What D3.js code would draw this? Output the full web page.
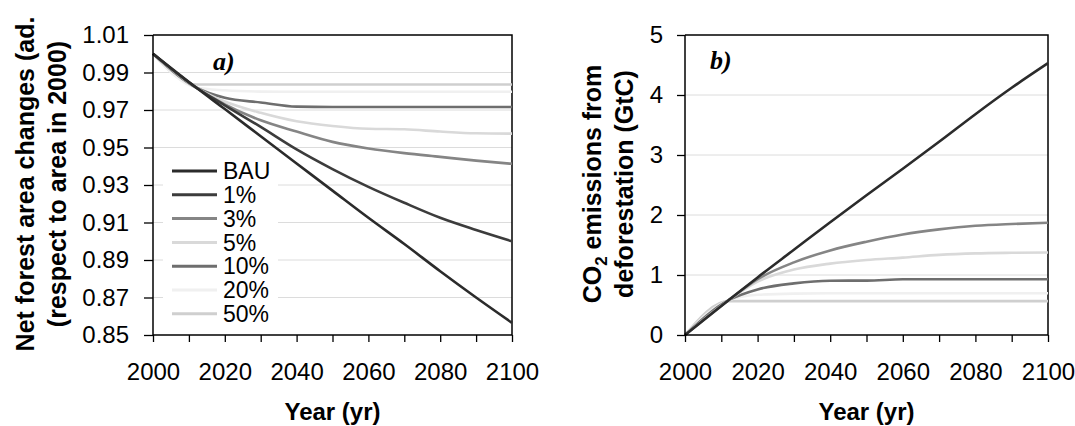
<!DOCTYPE html>
<html><head><meta charset="utf-8">
<script src="https://cdn.jsdelivr.net/npm/d3@7"></script>
<style>
body{margin:0;background:#fff;}
text{font-family:"Liberation Sans",Arial,sans-serif;fill:#000;}
</style></head>
<body><svg id="c" width="1075" height="426"></svg>
<script>
// ---------- data ----------
const years = [2000, 2012, 2020, 2030, 2040, 2050, 2060, 2070, 2080, 2090, 2100];
const seriesNames = ["BAU", "1%", "3%", "5%", "10%", "20%", "50%"];
// panel a: net forest area (relative to 2000)
const areaBAU = [1.000, 0.982, 0.9705, 0.956, 0.9415, 0.927, 0.9125, 0.8985, 0.884, 0.870, 0.8565];
const area1   = [1.000, 0.982, 0.9725, 0.961, 0.949, 0.9385, 0.929, 0.9205, 0.9125, 0.906, 0.900];
const area3   = [1.000, 0.982, 0.973, 0.9645, 0.9585, 0.953, 0.9495, 0.947, 0.945, 0.943, 0.9413];
const area5   = [1.000, 0.982, 0.9745, 0.9685, 0.964, 0.9615, 0.960, 0.9597, 0.9585, 0.9576, 0.9574];
const area10  = [1.000, 0.982, 0.9765, 0.974, 0.9718, 0.9716, 0.9716, 0.9716, 0.9716, 0.9716, 0.9716];
const area20  = [1.000, 0.982, 0.9805, 0.9798, 0.9797, 0.9797, 0.9797, 0.9797, 0.9797, 0.9797, 0.9797];
const area50  = [1.000, 0.9836, 0.9836, 0.9836, 0.9836, 0.9836, 0.9836, 0.9836, 0.9836, 0.9836, 0.9836];
// panel b: CO2 emissions from deforestation (GtC)
const co2BAU = [0, 0.58, 0.96, 1.42, 1.88, 2.33, 2.77, 3.22, 3.68, 4.12, 4.53];
const co2_3  = [0, 0.58, 0.93, 1.21, 1.41, 1.555, 1.675, 1.76, 1.82, 1.85, 1.87];
const co2_5  = [0, 0.58, 0.89, 1.09, 1.19, 1.25, 1.29, 1.335, 1.36, 1.37, 1.375];
const co2_10 = [0, 0.58, 0.76, 0.86, 0.905, 0.907, 0.928, 0.93, 0.93, 0.93, 0.93];
const co2_20 = [0, 0.58, 0.67, 0.69, 0.695, 0.695, 0.695, 0.695, 0.695, 0.695, 0.695];
const co2_50 = [0, 0.565, 0.565, 0.565, 0.565, 0.565, 0.565, 0.565, 0.565, 0.565, 0.565];
const areaTicks = [0.85, 0.87, 0.89, 0.91, 0.93, 0.95, 0.97, 0.99, 1.01];
const co2Ticks = [0, 1, 2, 3, 4, 5];
const yearTicks = [2000, 2010, 2020, 2030, 2040, 2050, 2060, 2070, 2080, 2090, 2100];
const yearLabels = [2000, 2020, 2040, 2060, 2080, 2100];

const colors = {"BAU":"#2b2b2b","1%":"#3c3c3c","3%":"#858585","5%":"#d9d9d9","10%":"#6e6e6e","20%":"#f0f0f0","50%":"#cfcfcf"};

const svg = d3.select("#c");
const FS = 24;

function panel(cfg){
  const g = svg.append("g");
  const x = d3.scaleLinear().domain([2000,2100]).range([cfg.x0, cfg.x1]);
  const y = d3.scaleLinear().domain(cfg.domain).range([335, 35]);
  g.selectAll("line.grid").data(cfg.ticks.slice(1,-1)).join("line")
    .attr("x1", cfg.x0).attr("x2", cfg.x1).attr("y1", d=>y(d)).attr("y2", d=>y(d))
    .attr("stroke","#dcdcdc").attr("stroke-width",1);
  g.append("path").attr("d",`M${cfg.x0},${y(cfg.domain[1])}H${cfg.x1}V${y(cfg.domain[0])}`)
    .attr("fill","none").attr("stroke","#000").attr("stroke-width",1.5);
  const line = d3.line().x((d,i)=>x(years[i])).y(d=>y(d)).curve(d3.curveMonotoneX);
  const lg = g.append("g");
  cfg.drawOrder.forEach(name=>{
    const vals = cfg.series[name];
    if(!vals) return;
    lg.append("path").attr("d", line(vals)).attr("fill","none")
      .attr("stroke", colors[name]).attr("stroke-width",2.6).attr("stroke-linejoin","round");
  });
  const ya = d3.axisLeft(y).tickValues(cfg.ticks).tickFormat(cfg.fmt).tickSize(cfg.ytick).tickPadding(cfg.ypad);
  const yg = g.append("g").attr("transform",`translate(${cfg.x0},0)`).call(ya);
  const xa = d3.axisBottom(x).tickValues(yearTicks).tickFormat(d=> yearLabels.includes(d)? d : "").tickSize(7).tickPadding(21);
  const xg = g.append("g").attr("transform",`translate(0,335)`).call(xa);
  [yg,xg].forEach(a=>{
    a.select(".domain").attr("stroke","#000").attr("stroke-width",1.5);
    a.selectAll(".tick line").attr("stroke","#000").attr("stroke-width",1.3);
    a.selectAll("text").style("font-family","'Liberation Sans',Arial,sans-serif").style("font-size",FS+"px").attr("fill","#000");
  });
  yg.select(".domain").attr("d",`M0,${y(cfg.domain[1])}V${y(cfg.domain[0])}`);
  xg.select(".domain").attr("d",`M${cfg.x0},0H${cfg.x1}`);
  g.append("text").attr("x",(cfg.x0+cfg.x1)/2).attr("y",420).attr("text-anchor","middle")
    .style("font-weight","bold").style("font-size","24px").text("Year (yr)");
  g.append("text").attr("x",cfg.x0+cfg.letterDx).attr("y",cfg.letterY)
    .style("font-family","'Liberation Serif','Times New Roman',serif").style("font-weight","bold").style("font-style","italic")
    .style("font-size","26px").text(cfg.letter);
  return {g,x,y};
}

const A = panel({x0:153, x1:512, domain:[0.85,1.01], ticks:areaTicks, fmt:d3.format(".2f"), ytick:9, ypad:15,
  series:{"BAU":areaBAU,"1%":area1,"3%":area3,"5%":area5,"10%":area10,"20%":area20,"50%":area50},
  drawOrder:["50%","20%","10%","5%","3%","1%","BAU"], letter:"a)", letterDx:60, letterY:70});
const B = panel({x0:685, x1:1048, domain:[0,5], ticks:co2Ticks, fmt:d3.format("d"), ytick:8, ypad:14,
  series:{"BAU":co2BAU,"3%":co2_3,"5%":co2_5,"10%":co2_10,"20%":co2_20,"50%":co2_50},
  drawOrder:["50%","20%","10%","5%","3%","BAU"], letter:"b)", letterDx:25, letterY:69});

// legend (panel a)
const leg = A.g.append("g");
leg.append("rect").attr("x",163).attr("y",157).attr("width",115).attr("height",172).attr("fill","#fff");
seriesNames.forEach((n,i)=>{
  const yy = 171 + i*23.8;
  leg.append("line").attr("x1",172).attr("x2",217).attr("y1",yy).attr("y2",yy)
    .attr("stroke",colors[n]).attr("stroke-width",3);
  leg.append("text").attr("x",223).attr("y",yy).attr("dy","0.36em").style("font-size","23px").text(n);
});

function ytitle(cx, cy, build){
  const t = svg.append("text").attr("transform",`translate(${cx},${cy}) rotate(-90)`)
    .attr("text-anchor","middle").attr("dy","0.35em").style("font-weight","bold").style("font-size","25px");
  build(t);
}
ytitle(25, 184, t=>t.text("Net forest area changes (ad."));
ytitle(57, 184, t=>t.text("(respect to area in 2000)"));
ytitle(592, 184, t=>{ t.append("tspan").text("CO"); t.append("tspan").attr("dy",6).style("font-size","17px").text("2");
  t.append("tspan").attr("dy",-6).text(" emissions from"); });
ytitle(624, 184, t=>t.text("deforestation (GtC)"));
</script></body></html>
